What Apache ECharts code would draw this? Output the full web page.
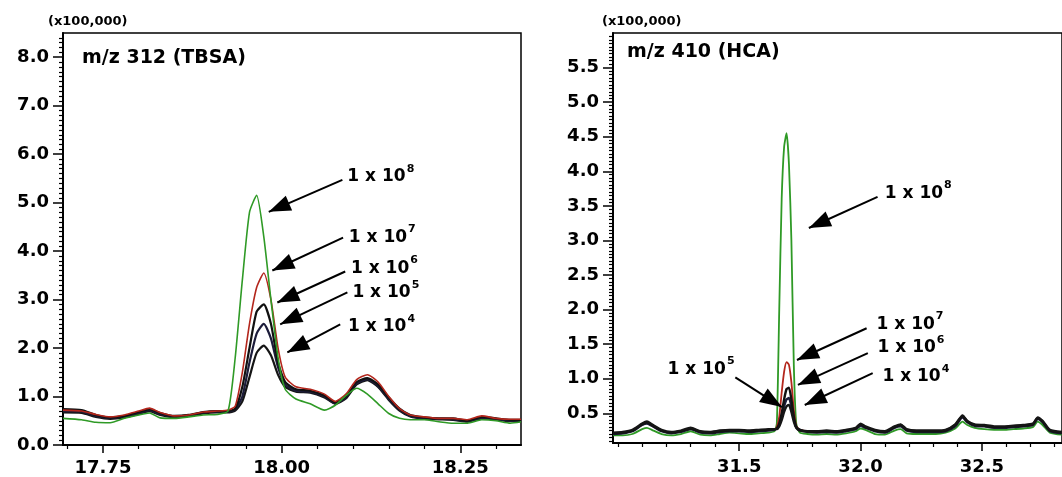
<!DOCTYPE html>
<html>
<head>
<meta charset="utf-8">
<script src="https://cdn.jsdelivr.net/npm/echarts@6/dist/echarts.min.js"></script>
<style>
  html, body { margin: 0; padding: 0; background: #fff; }
  #main { width: 1062px; height: 477px; }
</style>
</head>
<body>
<div id="main"></div>
<script>
  // left panel, m/z 312 (TBSA): retention time (min) and intensity (x100,000)
  var tbsaTime = [17.694, 17.72, 17.74, 17.76, 17.78, 17.80, 17.815, 17.83, 17.85, 17.87,
    17.89, 17.91, 17.925, 17.935, 17.945, 17.955, 17.965, 17.975, 17.985, 17.995,
    18.005, 18.02, 18.04, 18.06, 18.075, 18.09, 18.105, 18.12, 18.135, 18.15,
    18.165, 18.18, 18.20, 18.22, 18.24, 18.26, 18.28, 18.30, 18.32, 18.335]
  var tbsa1e8 = [0.55, 0.52, 0.47, 0.46, 0.55, 0.62, 0.66, 0.56, 0.55, 0.58,
    0.62, 0.63, 0.70, 1.8, 3.4, 4.8, 5.15, 4.3, 3.0, 1.8,
    1.15, 0.95, 0.85, 0.72, 0.82, 1.02, 1.17, 1.05, 0.85, 0.65,
    0.55, 0.52, 0.52, 0.48, 0.45, 0.45, 0.52, 0.50, 0.45, 0.48]
  var tbsa1e7 = [0.72, 0.70, 0.63, 0.58, 0.62, 0.70, 0.76, 0.67, 0.60, 0.62,
    0.68, 0.70, 0.72, 0.80, 1.5, 2.5, 3.25, 3.55, 3.0, 2.0,
    1.4, 1.2, 1.15, 1.05, 0.90, 1.05, 1.35, 1.45, 1.3, 1.0,
    0.75, 0.62, 0.58, 0.55, 0.55, 0.52, 0.60, 0.55, 0.53, 0.53]
  var tbsa1e6 = [0.74, 0.72, 0.62, 0.57, 0.60, 0.68, 0.74, 0.66, 0.60, 0.62,
    0.68, 0.70, 0.70, 0.75, 1.2, 2.0, 2.75, 2.9, 2.5, 1.7,
    1.3, 1.15, 1.12, 1.02, 0.88, 1.0, 1.3, 1.38, 1.25, 0.98,
    0.75, 0.62, 0.57, 0.55, 0.55, 0.50, 0.58, 0.55, 0.52, 0.52]
  var tbsa1e5 = [0.70, 0.69, 0.60, 0.56, 0.59, 0.66, 0.72, 0.64, 0.59, 0.61,
    0.67, 0.69, 0.69, 0.73, 1.0, 1.7, 2.3, 2.5, 2.2, 1.6,
    1.25, 1.12, 1.1, 1.0, 0.86, 0.98, 1.27, 1.36, 1.22, 0.95,
    0.73, 0.60, 0.55, 0.54, 0.53, 0.49, 0.56, 0.54, 0.50, 0.50]
  var tbsa1e4 = [0.67, 0.66, 0.58, 0.54, 0.57, 0.64, 0.70, 0.62, 0.57, 0.60,
    0.65, 0.67, 0.67, 0.71, 0.9, 1.4, 1.9, 2.05, 1.85, 1.45,
    1.2, 1.1, 1.08, 0.98, 0.85, 0.96, 1.25, 1.34, 1.2, 0.93,
    0.71, 0.59, 0.54, 0.53, 0.52, 0.48, 0.55, 0.53, 0.49, 0.49]

  // right panel, m/z 410 (HCA)
  var hcaTime = [30.98, 31.02, 31.06, 31.10, 31.12, 31.14, 31.18, 31.22, 31.26, 31.30,
    31.34, 31.38, 31.42, 31.46, 31.50, 31.54, 31.58, 31.62, 31.645, 31.655,
    31.665, 31.675, 31.685, 31.695, 31.705, 31.715, 31.725, 31.735, 31.75, 31.78,
    31.82, 31.86, 31.90, 31.94, 31.98, 32.00, 32.02, 32.06, 32.10, 32.14,
    32.165, 32.19, 32.23, 32.27, 32.31, 32.35, 32.39, 32.42, 32.44, 32.47,
    32.51, 32.55, 32.59, 32.63, 32.67, 32.71, 32.73, 32.75, 32.78, 32.83]
  var hca1e8 = [0.18, 0.18, 0.20, 0.27, 0.29, 0.26, 0.20, 0.18, 0.20, 0.24,
    0.19, 0.18, 0.20, 0.22, 0.21, 0.20, 0.21, 0.22, 0.24, 0.35,
    2.0, 3.6, 4.35, 4.55, 4.1, 3.0, 1.2, 0.35, 0.22, 0.20,
    0.19, 0.20, 0.19, 0.21, 0.24, 0.28, 0.26, 0.20, 0.19, 0.25,
    0.27, 0.21, 0.20, 0.20, 0.20, 0.22, 0.28, 0.38, 0.33, 0.29,
    0.27, 0.26, 0.26, 0.27, 0.28, 0.30, 0.38, 0.33, 0.22, 0.19]
  var hca1e7 = [0.21, 0.22, 0.25, 0.33, 0.36, 0.32, 0.25, 0.22, 0.24, 0.28,
    0.23, 0.22, 0.24, 0.25, 0.25, 0.24, 0.25, 0.26, 0.26, 0.30,
    0.45, 0.80, 1.1, 1.24, 1.2, 0.95, 0.55, 0.32, 0.26, 0.24,
    0.23, 0.24, 0.23, 0.25, 0.28, 0.33, 0.30, 0.25, 0.23, 0.30,
    0.32, 0.26, 0.24, 0.24, 0.24, 0.25, 0.32, 0.45, 0.38, 0.33,
    0.32, 0.30, 0.30, 0.31, 0.32, 0.34, 0.43, 0.38, 0.25, 0.22]
  var hca1e6 = [0.21, 0.22, 0.25, 0.34, 0.37, 0.33, 0.25, 0.22, 0.24, 0.28,
    0.23, 0.22, 0.24, 0.25, 0.25, 0.24, 0.25, 0.26, 0.27, 0.28,
    0.35, 0.50, 0.70, 0.85, 0.87, 0.70, 0.45, 0.30, 0.26, 0.24,
    0.23, 0.24, 0.23, 0.25, 0.28, 0.34, 0.30, 0.25, 0.23, 0.30,
    0.33, 0.26, 0.24, 0.24, 0.24, 0.25, 0.33, 0.46, 0.38, 0.33,
    0.32, 0.30, 0.30, 0.31, 0.32, 0.34, 0.43, 0.38, 0.25, 0.22]
  var hca1e5 = [0.20, 0.21, 0.24, 0.33, 0.35, 0.32, 0.24, 0.21, 0.23, 0.27,
    0.22, 0.21, 0.23, 0.24, 0.24, 0.23, 0.24, 0.25, 0.26, 0.28,
    0.33, 0.45, 0.60, 0.70, 0.72, 0.60, 0.42, 0.30, 0.26, 0.23,
    0.22, 0.23, 0.22, 0.24, 0.27, 0.32, 0.29, 0.24, 0.22, 0.29,
    0.31, 0.25, 0.23, 0.23, 0.23, 0.24, 0.31, 0.44, 0.37, 0.32,
    0.31, 0.29, 0.29, 0.30, 0.31, 0.33, 0.42, 0.37, 0.24, 0.21]
  var hca1e4 = [0.22, 0.23, 0.26, 0.35, 0.38, 0.34, 0.26, 0.23, 0.25, 0.29,
    0.24, 0.23, 0.25, 0.26, 0.26, 0.25, 0.26, 0.27, 0.27, 0.27,
    0.31, 0.40, 0.52, 0.60, 0.62, 0.52, 0.38, 0.29, 0.25, 0.24,
    0.24, 0.25, 0.24, 0.26, 0.29, 0.35, 0.31, 0.26, 0.24, 0.31,
    0.34, 0.27, 0.25, 0.25, 0.25, 0.26, 0.34, 0.47, 0.39, 0.34,
    0.33, 0.31, 0.31, 0.32, 0.33, 0.35, 0.44, 0.39, 0.26, 0.23]

  // tick labels
  var tbsaXTicks = [17.75, 18.00, 18.25]
  var tbsaXMinor = [17.70, 17.80, 17.85, 17.90, 17.95, 18.05, 18.10, 18.15, 18.20, 18.30]
  var tbsaYTicks = [0, 1, 2, 3, 4, 5, 6, 7, 8]
  var hcaXTicks = [31.5, 32.0, 32.5]
  var hcaXMinor = [31.0, 31.1, 31.2, 31.3, 31.4, 31.6, 31.7, 31.8, 31.9, 32.1, 32.2, 32.3, 32.4, 32.6, 32.7, 32.8]
  var hcaYTicks = [0.5, 1.0, 1.5, 2.0, 2.5, 3.0, 3.5, 4.0, 4.5, 5.0, 5.5]

  // arrow annotations: exponent, line start [x, y], arrow tip [x, y], text anchor [x, y]
  var tbsaArrows = [
    ['8', [18.085, 5.47], [17.982, 4.81], [18.092, 5.58]],
    ['7', [18.086, 4.28], [17.987, 3.60], [18.094, 4.34]],
    ['6', [18.089, 3.58], [17.994, 2.94], [18.097, 3.70]],
    ['5', [18.092, 3.15], [17.998, 2.49], [18.099, 3.19]],
    ['4', [18.082, 2.49], [18.008, 1.91], [18.093, 2.49]]
  ]
  var hcaArrows = [
    ['8', [32.07, 3.63], [31.787, 3.18], [32.10, 3.72]],
    ['7', [32.025, 1.73], [31.738, 1.27], [32.066, 1.82]],
    ['6', [32.03, 1.37], [31.742, 0.91], [32.07, 1.48]],
    ['4', [32.05, 1.08], [31.77, 0.62], [32.09, 1.06]],
    ['5', [31.484, 1.02], [31.676, 0.59], [31.205, 1.17]]
  ]

  var yMinorLeft = []
  for (var i = 1; i < 85; i++) {
    if (i % 10) yMinorLeft.push(i / 10)
  }
  var yMinorRight = []
  for (var j = 2; j < 120; j++) {
    if (j % 10) yMinorRight.push(Math.round(j * 5) / 100)
  }

  var FONT = 'DejaVu Sans'
  var GREEN = '#2f9a26'
  var RED = '#b3261c'

  function pairs(xs, ys) {
    return xs.map(function (x, i) { return [x, ys[i]] })
  }

  function mainAxis(dim, grid, min, max, ticks, digits, margin) {
    return {
      gridIndex: grid,
      type: 'value',
      position: dim === 'x' ? 'bottom' : 'left',
      min: min,
      max: max,
      axisLine: { show: true, onZero: false, lineStyle: { color: '#000', width: 2 } },
      axisTick: { show: true, customValues: ticks, length: dim === 'x' ? 8 : 10, lineStyle: { color: '#000', width: 1.5 } },
      axisLabel: {
        customValues: ticks,
        margin: margin,
        color: '#000',
        fontFamily: FONT,
        fontWeight: 'bold',
        fontSize: 18,
        formatter: function (v) { return v.toFixed(digits) }
      },
      splitLine: { show: false }
    }
  }

  function minorAxis(dim, grid, min, max, ticks) {
    return {
      gridIndex: grid,
      type: 'value',
      position: dim === 'x' ? 'bottom' : 'left',
      min: min,
      max: max,
      axisLine: { show: false, onZero: false },
      axisTick: { show: true, customValues: ticks, length: 4, lineStyle: { color: '#000', width: 1.2 } },
      axisLabel: { show: false },
      splitLine: { show: false }
    }
  }

  function arrowMarks(list) {
    return {
      markLine: {
        silent: true,
        animation: false,
        symbol: ['none', 'triangle'],
        symbolSize: [16, 22],
        symbolOffset: [0, [0, 11]],
        lineStyle: { color: '#000', width: 2, type: 'solid' },
        label: { show: false },
        data: list.map(function (a) {
          return [{ coord: a[1] }, { coord: a[2] }]
        })
      },
      markPoint: {
        silent: true,
        animation: false,
        symbol: 'circle',
        symbolSize: 0,
        data: list.map(function (a) {
          return {
            coord: a[3],
            label: {
              show: true,
              position: 'inside',
              align: 'left',
              verticalAlign: 'middle',
              formatter: '{b|1 x 10}{s|' + a[0] + '}',
              rich: {
                b: { fontFamily: FONT, fontWeight: 'bold', fontSize: 17, color: '#000', lineHeight: 22, verticalAlign: 'bottom' },
                s: { fontFamily: FONT, fontWeight: 'bold', fontSize: 11, color: '#000', lineHeight: 22, verticalAlign: 'top', padding: [0, 0, 0, 1] }
              }
            }
          }
        })
      }
    }
  }

  function trace(name, xs, ys, color, width, xi, yi, extra) {
    var s = {
      name: name,
      type: 'line',
      xAxisIndex: xi,
      yAxisIndex: yi,
      data: pairs(xs, ys),
      showSymbol: false,
      smooth: 0.2,
      lineStyle: { color: color, width: width },
      z: 2
    }
    if (extra) Object.assign(s, extra)
    return s
  }

  var option = {
    animation: false,
    backgroundColor: '#fff',
    grid: [
      { left: 63, top: 33, width: 458, height: 413, show: true, borderColor: '#000', borderWidth: 1.5, backgroundColor: 'transparent' },
      { left: 613, top: 33, width: 449, height: 410, show: true, borderColor: '#000', borderWidth: 1.5, backgroundColor: 'transparent' }
    ],
    xAxis: [
      mainAxis('x', 0, 17.694, 18.335, tbsaXTicks, 2, 14),
      minorAxis('x', 0, 17.694, 18.335, tbsaXMinor),
      mainAxis('x', 1, 30.98, 32.83, hcaXTicks, 1, 15),
      minorAxis('x', 1, 30.98, 32.83, hcaXMinor)
    ],
    yAxis: [
      mainAxis('y', 0, 0, 8.5, tbsaYTicks, 1, 14),
      minorAxis('y', 0, 0, 8.5, yMinorLeft),
      mainAxis('y', 1, 0.07, 6.0, hcaYTicks, 1, 14),
      minorAxis('y', 1, 0.07, 6.0, yMinorRight)
    ],
    graphic: [
      { type: 'text', left: 48, top: 15, style: { text: '(x100,000)', font: 'bold 13px "DejaVu Sans"', fill: '#000' } },
      { type: 'text', left: 602, top: 15, style: { text: '(x100,000)', font: 'bold 13px "DejaVu Sans"', fill: '#000' } },
      { type: 'text', left: 82, top: 49, style: { text: 'm/z 312 (TBSA)', font: 'bold 19px "DejaVu Sans"', fill: '#000' } },
      { type: 'text', left: 627, top: 43, style: { text: 'm/z 410 (HCA)', font: 'bold 19px "DejaVu Sans"', fill: '#000' } }
    ],
    series: [
      trace('1 x 10^4', tbsaTime, tbsa1e4, '#151515', 2.2, 0, 0),
      trace('1 x 10^5', tbsaTime, tbsa1e5, '#1c1c3a', 2.2, 0, 0),
      trace('1 x 10^6', tbsaTime, tbsa1e6, '#111', 2.2, 0, 0),
      trace('1 x 10^7', tbsaTime, tbsa1e7, RED, 1.6, 0, 0),
      trace('1 x 10^8', tbsaTime, tbsa1e8, GREEN, 1.6, 0, 0, arrowMarks(tbsaArrows)),
      trace('1 x 10^8', hcaTime, hca1e8, GREEN, 1.8, 2, 2),
      trace('1 x 10^7', hcaTime, hca1e7, RED, 1.8, 2, 2),
      trace('1 x 10^5', hcaTime, hca1e5, '#1c1c3a', 2.4, 2, 2),
      trace('1 x 10^6', hcaTime, hca1e6, '#111', 2.4, 2, 2),
      trace('1 x 10^4', hcaTime, hca1e4, '#151515', 2.4, 2, 2, arrowMarks(hcaArrows))
    ]
  }

  var chart = echarts.init(document.getElementById('main'))
  chart.setOption(option)
</script>
</body>
</html>
